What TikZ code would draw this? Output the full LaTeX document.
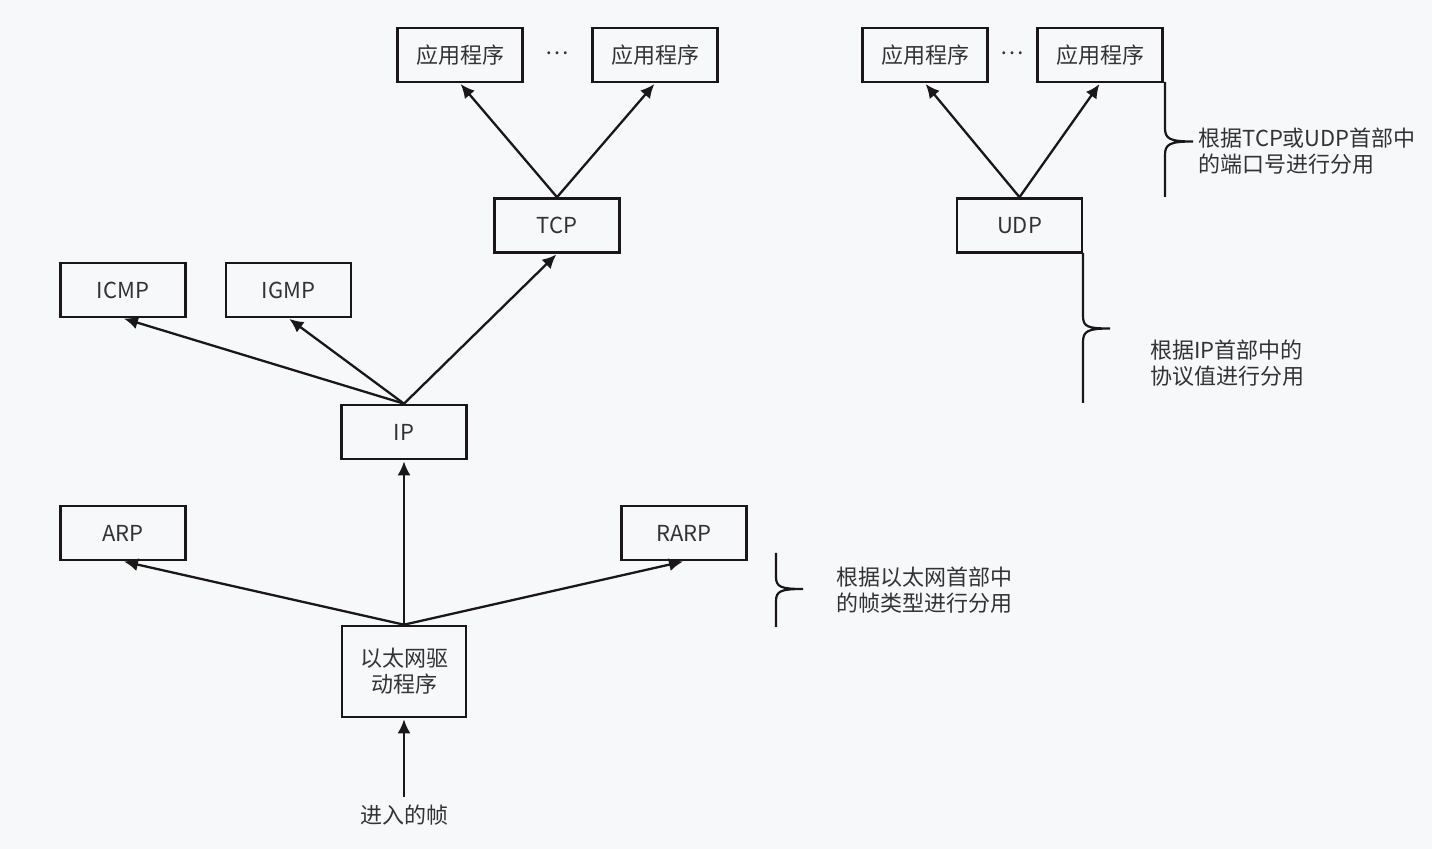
\documentclass[tikz,border=0pt]{standalone}
\usepackage{fontspec}
\setmainfont{Noto Sans CJK SC}
\usetikzlibrary{arrows.meta}
\definecolor{bg}{HTML}{F7F8FA}
\definecolor{ink}{HTML}{1A1718}
\definecolor{txt}{HTML}{333333}
\tikzset{
  box/.style={draw=ink, line width=1.3pt, fill=none, minimum width=62.5pt, minimum height=27pt, inner sep=0pt, text=txt, font=\fontsize{11}{13}\selectfont},
  lbl/.style={text=txt, inner sep=0pt, font=\fontsize{11}{13}\selectfont},
  arr/.style={draw=ink, line width=1.15pt, -{Latex[length=7pt,width=6.5pt]}, shorten >=0.5pt},
  brace/.style={draw=ink, line width=1.1pt}
}
\begin{document}
\begin{tikzpicture}[x=0.5pt,y=-0.5pt]
\fill[bg] (0,0) rectangle (1432,849);
\useasboundingbox (0,0) rectangle (1432,849);
% boxes
\node[box] (app1) at (460,55) {应用程序};
\node[lbl] (dots1) at (557,53) {…};
\node[box] (app2) at (655,55) {应用程序};
\node[box] (app3) at (925,55) {应用程序};
\node[lbl] (dots2) at (1012,53) {…};
\node[box] (app4) at (1100,55) {应用程序};
\node[box] (tcp) at (557,225.5) {TCP};
\node[box] (udp) at (1019.5,225.5) {UDP};
\node[box] (icmp) at (123,290) {ICMP};
\node[box] (igmp) at (288.5,290) {IGMP};
\node[box] (ip) at (404,432) {IP};
\node[box] (arp) at (123,533) {ARP};
\node[box] (rarp) at (684,533) {RARP};
\node[box, minimum width=62pt, minimum height=45.5pt, align=center] (eth) at (404,671.5) {以太网驱\\动程序};
\node[lbl] (frame) at (404,815) {进入的帧};
\coordinate (fr) at (404,797);
% arrows
\draw[arr] (tcp.north) -- (app1.south);
\draw[arr] (tcp.north) -- (app2.south);
\draw[arr] (udp.north) -- (app3.south);
\draw[arr] (udp.north) -- (app4.south);
\draw[arr] (ip.north) -- (icmp.south);
\draw[arr] (ip.north) -- (igmp.south);
\draw[arr] (ip.north) -- (tcp.south);
\draw[arr] (eth.north) -- (arp.south);
\draw[arr] (eth.north) -- (ip.south);
\draw[arr] (eth.north) -- (rarp.south);
\draw[arr] (fr) -- (eth.south);
% braces
\draw[brace] (1165,82) -- (1165,128) .. controls (1165,139) and (1170,141.5) .. (1193,141.5)
  (1193,141.5) .. controls (1170,141.5) and (1165,144) .. (1165,155) -- (1165,197);
\draw[brace] (1083,253) -- (1083,316) .. controls (1083,327) and (1088,328.5) .. (1110,328.5)
  (1110,328.5) .. controls (1088,328.5) and (1083,331) .. (1083,342) -- (1083,403);
\draw[brace] (776,553) -- (776,577) .. controls (776,587) and (781,589) .. (803,589)
  (803,589) .. controls (781,589) and (776,591) .. (776,601) -- (776,627);
% brace texts
\node[lbl, anchor=west, align=left] (t1) at (1198,151) {根据TCP或UDP首部中\\的端口号进行分用};
\node[lbl, anchor=west, align=left] (t2) at (1150,363) {根据IP首部中的\\协议值进行分用};
\node[lbl, anchor=west, align=left] (t3) at (836,590) {根据以太网首部中\\的帧类型进行分用};
\end{tikzpicture}
\end{document}
